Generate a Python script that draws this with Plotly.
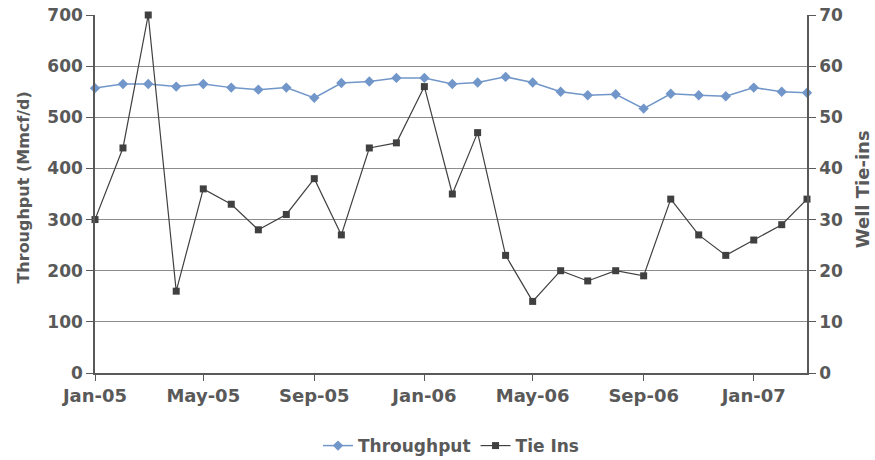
import plotly.graph_objects as go

months = ["2005-01-01", "2005-02-01", "2005-03-01", "2005-04-01", "2005-05-01", "2005-06-01",
          "2005-07-01", "2005-08-01", "2005-09-01", "2005-10-01", "2005-11-01", "2005-12-01",
          "2006-01-01", "2006-02-01", "2006-03-01", "2006-04-01", "2006-05-01", "2006-06-01",
          "2006-07-01", "2006-08-01", "2006-09-01", "2006-10-01", "2006-11-01", "2006-12-01",
          "2007-01-01", "2007-02-01", "2007-03-01"]

throughput = [557, 565, 565, 560, 565, 558, 554, 558, 538, 567, 570, 577,
              577, 565, 568, 579, 568, 550, 543, 545, 517, 546, 543, 541,
              558, 550, 548]

tie_ins = [30, 44, 70, 16, 36, 33, 28, 31, 38, 27, 44, 45,
           56, 35, 47, 23, 14, 20, 18, 20, 19, 34, 27, 23,
           26, 29, 34]

FONT = "DejaVu Sans"
TXT = "#595959"
AX = "#595959"
GRID = "#8c8c8c"

fig = go.Figure()
fig.add_trace(go.Scatter(
    x=months, y=throughput, name="<b>Throughput</b>", mode="lines+markers",
    line=dict(color="#7196c9", width=1.5),
    marker=dict(symbol="diamond", size=8, color="#7196c9"),
    cliponaxis=False, yaxis="y"))
fig.add_trace(go.Scatter(
    x=months, y=tie_ins, name="<b>Tie Ins</b>", mode="lines+markers",
    line=dict(color="#404040", width=1.2),
    marker=dict(symbol="square", size=7, color="#404040"),
    cliponaxis=False, yaxis="y2"))

fig.update_layout(
    width=875, height=460,
    margin=dict(l=95, r=68, t=15, b=87, autoexpand=False),
    paper_bgcolor="white", plot_bgcolor="white",
    font=dict(family=FONT, color=TXT),
    showlegend=True,
    legend=dict(orientation="h", x=0.5, xanchor="center", xref="paper",
                y=-0.204, yanchor="middle",
                font=dict(family=FONT, size=17, color=TXT),
                itemwidth=30, tracegroupgap=0),
    xaxis=dict(
        type="date", range=["2005-01-01", "2007-03-01"],
        tick0="2005-01-01", dtick="M4", tickformat="%b-%y",
        showgrid=False, showline=True, linecolor=AX, linewidth=1.5,
        ticks="outside", ticklen=6, tickcolor=AX, tickwidth=1,
        tickfont=dict(family=FONT, size=18, color=TXT, weight="bold"),
        ticklabeloverflow="allow",
        zeroline=False, automargin=False),
    yaxis=dict(
        range=[0, 700], dtick=100,
        showgrid=True, gridcolor=GRID, gridwidth=1.3,
        showline=True, linecolor=AX, linewidth=1.5,
        ticks="outside", ticklen=7, tickcolor=AX,
        tickfont=dict(family=FONT, size=17, color=TXT, weight="bold"),
        ticklabeloverflow="allow",
        zeroline=False, automargin=False),
    yaxis2=dict(
        range=[0, 70], dtick=10, overlaying="y", side="right",
        showgrid=False, showline=True, linecolor=AX, linewidth=1.5,
        ticks="outside", ticklen=7, tickcolor=AX,
        tickfont=dict(family=FONT, size=17, color=TXT, weight="bold"),
        ticklabeloverflow="allow",
        zeroline=False, automargin=False),
    annotations=[
        dict(text="<b>Throughput (Mmcf/d)</b>", textangle=-90,
             xref="paper", yref="paper", x=-0.0997, y=0.518,
             xanchor="center", yanchor="middle", showarrow=False,
             font=dict(family=FONT, size=16, color=TXT)),
        dict(text="<b>Well Tie-ins</b>", textangle=-90,
             xref="paper", yref="paper", x=1.079, y=0.514,
             xanchor="center", yanchor="middle", showarrow=False,
             font=dict(family=FONT, size=18, color=TXT)),
    ],
)

fig.write_html(
    "out.html",
    config={"displayModeBar": False},
    post_script="document.body.style.margin='0';document.body.style.overflow='hidden';",
)
